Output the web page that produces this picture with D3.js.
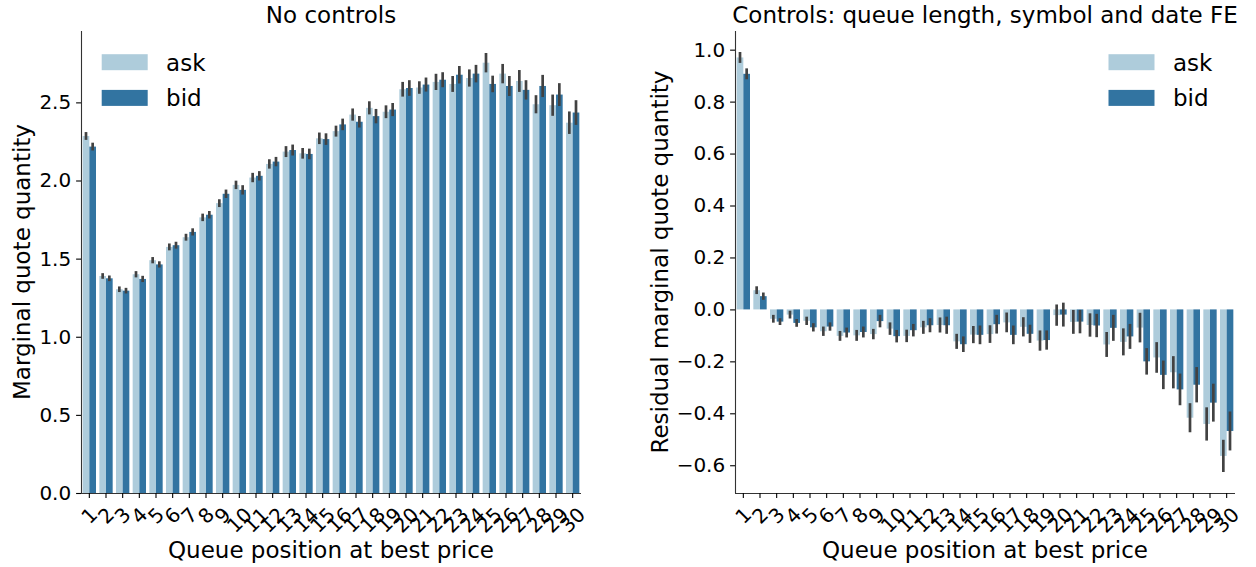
<!DOCTYPE html>
<html>
<head>
<meta charset="utf-8">
<script src="https://cdn.jsdelivr.net/npm/d3@7"></script>
<style>
  body { margin: 0; background: #fff; }
  svg { font-family: "DejaVu Sans", sans-serif; }
</style>
</head>
<body>
<svg id="chart" width="1256" height="567"></svg>
<script>
/* ========================================================================== */
/* =============================== Data ===================================== */

var positions = ["1", "2", "3", "4", "5", "6", "7", "8", "9", "10",
                 "11", "12", "13", "14", "15", "16", "17", "18", "19", "20",
                 "21", "22", "23", "24", "25", "26", "27", "28", "29", "30"];
var sides = ["ask", "bid"];

// left panel: no controls
var askRaw = [2.285, 1.389, 1.304, 1.400, 1.490, 1.575, 1.637, 1.764, 1.855, 1.972,
              2.019, 2.106, 2.185, 2.174, 2.270, 2.316, 2.422, 2.465, 2.440, 2.584,
              2.595, 2.631, 2.618, 2.656, 2.754, 2.684, 2.637, 2.488, 2.482, 2.370];
var askRawErr = [0.025, 0.018, 0.018, 0.020, 0.020, 0.022, 0.022, 0.024, 0.025, 0.027,
                 0.030, 0.030, 0.035, 0.034, 0.037, 0.035, 0.039, 0.042, 0.041, 0.047,
                 0.040, 0.052, 0.051, 0.055, 0.062, 0.062, 0.070, 0.058, 0.068, 0.072];
var bidRaw = [2.217, 1.374, 1.295, 1.370, 1.463, 1.586, 1.671, 1.781, 1.915, 1.940,
              2.030, 2.121, 2.195, 2.170, 2.265, 2.359, 2.376, 2.412, 2.454, 2.592,
              2.614, 2.645, 2.677, 2.684, 2.618, 2.605, 2.580, 2.605, 2.550, 2.435];
var bidRawErr = [0.025, 0.018, 0.018, 0.020, 0.020, 0.022, 0.023, 0.024, 0.027, 0.030,
                 0.030, 0.030, 0.035, 0.034, 0.037, 0.037, 0.037, 0.046, 0.042, 0.050,
                 0.045, 0.048, 0.056, 0.056, 0.053, 0.064, 0.062, 0.071, 0.073, 0.079];

// right panel: residuals after controls
var askRes = [0.970, 0.074, -0.036, -0.020, -0.044, -0.084, -0.102, -0.100, -0.095, -0.074,
              -0.102, -0.069, -0.060, -0.123, -0.097, -0.095, -0.050, -0.067, -0.120, -0.022,
              -0.048, -0.060, -0.135, -0.125, -0.070, -0.185, -0.242, -0.417, -0.441, -0.564];
var askResErr = [0.021, 0.015, 0.015, 0.015, 0.016, 0.018, 0.019, 0.021, 0.020, 0.024,
                 0.024, 0.025, 0.029, 0.029, 0.033, 0.034, 0.038, 0.037, 0.039, 0.041,
                 0.046, 0.045, 0.048, 0.052, 0.057, 0.059, 0.062, 0.056, 0.064, 0.062];
var bidRes = [0.907, 0.051, -0.047, -0.052, -0.069, -0.066, -0.089, -0.087, -0.045, -0.103,
              -0.080, -0.061, -0.061, -0.134, -0.098, -0.057, -0.098, -0.094, -0.118, -0.020,
              -0.047, -0.062, -0.071, -0.104, -0.200, -0.252, -0.308, -0.290, -0.359, -0.468];
var bidResErr = [0.021, 0.014, 0.013, 0.015, 0.016, 0.016, 0.019, 0.021, 0.024, 0.024,
                 0.024, 0.027, 0.033, 0.030, 0.036, 0.036, 0.036, 0.035, 0.037, 0.046,
                 0.045, 0.045, 0.050, 0.048, 0.051, 0.055, 0.061, 0.068, 0.073, 0.075];

var yTicksLeft = [0.0, 0.5, 1.0, 1.5, 2.0, 2.5];
var yTicksRight = [-0.6, -0.4, -0.2, 0.0, 0.2, 0.4, 0.6, 0.8, 1.0];

/* ========================================================================== */
/* =========================== Variables ==================================== */

var svg = d3.select("#chart");
var colors = { ask: "#aeccdb", bid: "#3274a1" };
var errColor = "#424242";
var tickFont = 20;
var labelFont = 23;
var tickLen = 4.9;
var plotTop = 31;
var plotBottom = 493;

drawPanel({
    x0: 81, x1: 581,
    title: "No controls",
    ylabel: "Marginal quote quantity",
    ylabelX: 30,
    legendX: 101.7,
    ask: askRaw, askErr: askRawErr,
    bid: bidRaw, bidErr: bidRawErr,
    yTicks: yTicksLeft
});

drawPanel({
    x0: 735, x1: 1235,
    title: "Controls: queue length, symbol and date FE",
    ylabel: "Residual marginal quote quantity",
    ylabelX: 668,
    legendX: 1108.5,
    ask: askRes, askErr: askResErr,
    bid: bidRes, bidErr: bidResErr,
    yTicks: yTicksRight
});

/* ========================================================================== */

/*
  draws one barplot panel with error bars, axes and legend
*/
function drawPanel (p) {
    var g = svg.append("g");

    // rows of {pos, side, value, err}
    var rows = [];
    positions.forEach(function (pos, i) {
        rows.push({ pos: pos, side: "ask", value: p.ask[i], err: p.askErr[i] });
        rows.push({ pos: pos, side: "bid", value: p.bid[i], err: p.bidErr[i] });
    });

    // y limits like matplotlib autoscale: data range + 5% margins
    var lo = d3.min(rows, function (d) { return Math.min(0, d.value - d.err); });
    var hi = d3.max(rows, function (d) { return Math.max(0, d.value + d.err); });
    var margin = (hi - lo) * 0.05;
    if (lo < 0) { lo -= margin; }
    hi += margin;

    var x = d3.scaleBand()
        .domain(positions)
        .range([p.x0, p.x1])
        .paddingInner(0.2)
        .paddingOuter(0.1);

    var xSide = d3.scaleBand()
        .domain(sides)
        .range([0, x.bandwidth()]);

    var y = d3.scaleLinear()
        .domain([lo, hi])
        .range([plotBottom, plotTop]);

    // bars
    g.selectAll("rect.bar")
        .data(rows)
        .enter().append("rect")
        .attr("class", "bar")
        .attr("x", function (d) { return x(d.pos) + xSide(d.side); })
        .attr("width", xSide.bandwidth())
        .attr("y", function (d) { return y(Math.max(0, d.value)); })
        .attr("height", function (d) { return Math.abs(y(d.value) - y(0)); })
        .attr("fill", function (d) { return colors[d.side]; });

    // error bars
    g.selectAll("line.err")
        .data(rows)
        .enter().append("line")
        .attr("class", "err")
        .attr("x1", function (d) { return x(d.pos) + xSide(d.side) + xSide.bandwidth() / 2; })
        .attr("x2", function (d) { return x(d.pos) + xSide(d.side) + xSide.bandwidth() / 2; })
        .attr("y1", function (d) { return y(d.value - d.err); })
        .attr("y2", function (d) { return y(d.value + d.err); })
        .attr("stroke", errColor)
        .attr("stroke-width", 2.7);

    // y axis
    var yAxis = g.append("g")
        .attr("transform", "translate(" + p.x0 + ",0)")
        .call(d3.axisLeft(y)
            .tickValues(p.yTicks)
            .tickFormat(d3.format(".1f"))
            .tickSize(tickLen)
            .tickPadding(4.9)
            .tickSizeOuter(0));
    styleAxis(yAxis);
    yAxis.select(".domain").attr("d", "M0.5," + plotBottom + "V" + plotTop);

    // x axis, labels added by hand because of the rotation
    var xAxis = g.append("g")
        .attr("transform", "translate(0," + plotBottom + ")")
        .call(d3.axisBottom(x)
            .tickFormat("")
            .tickSize(tickLen)
            .tickSizeOuter(0));
    styleAxis(xAxis);
    xAxis.select(".domain").attr("d", "M" + p.x0 + ",0.5H" + p.x1);

    var labelTop = plotBottom + tickLen + 4.9;
    positions.forEach(function (pos) {
        var cx = x(pos) + x.bandwidth() / 2;
        var t = g.append("text")
            .attr("font-size", tickFont)
            .attr("fill", "#000")
            .attr("text-anchor", "middle")
            .attr("dy", "0.35em")
            .text(pos);
        var w = t.node().getComputedTextLength();
        var h = tickFont * 1.164;
        var boxH = (w + h) * Math.SQRT1_2;
        var cy = labelTop + boxH / 2;
        t.attr("transform", "translate(" + cx + "," + cy + ") rotate(-45)");
    });

    // titles
    var mid = (p.x0 + p.x1) / 2;
    g.append("text")
        .attr("x", mid)
        .attr("y", 23)
        .attr("text-anchor", "middle")
        .attr("font-size", labelFont)
        .text(p.title);

    g.append("text")
        .attr("x", mid)
        .attr("y", 558)
        .attr("text-anchor", "middle")
        .attr("font-size", labelFont)
        .text("Queue position at best price");

    g.append("text")
        .attr("transform", "translate(" + p.ylabelX + "," + (plotTop + plotBottom) / 2 + ") rotate(-90)")
        .attr("text-anchor", "middle")
        .attr("font-size", labelFont)
        .text(p.ylabel);

    // legend
    sides.forEach(function (side, i) {
        var cy = 62.2 + i * 35.7;
        g.append("rect")
            .attr("x", p.legendX)
            .attr("y", cy - 8)
            .attr("width", 46)
            .attr("height", 16)
            .attr("fill", colors[side]);
        g.append("text")
            .attr("x", p.legendX + 46 + 18.4)
            .attr("y", cy + 8.5)
            .attr("font-size", labelFont)
            .text(side);
    });
}

/*
  matplotlib-ish look for axis lines and tick labels
*/
function styleAxis (axis) {
    axis.attr("font-family", null);
    axis.selectAll("text").attr("font-size", tickFont).attr("fill", "#000");
    axis.selectAll("line").attr("stroke", "#000").attr("stroke-width", 1.1);
    axis.select(".domain").attr("stroke", "#333").attr("stroke-width", 1.1);
}
</script>
</body>
</html>
